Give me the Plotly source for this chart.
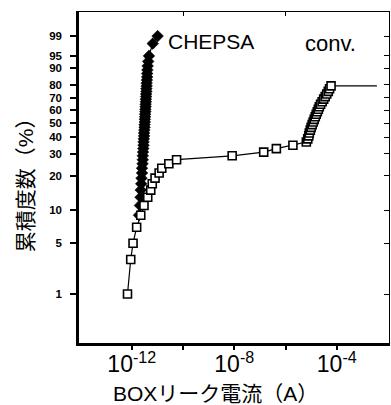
import numpy as np
import plotly.graph_objects as go

# ---------------- data ----------------
chepsa_F = [9, 11, 13, 15, 17, 19, 21, 23, 25, 27, 29, 31, 33, 35, 37, 39, 41, 43, 45, 47,
            49, 51, 53, 55, 57, 59, 61, 63, 65, 67, 69, 71, 73, 75, 77, 79, 81, 83, 85, 87,
            89, 91, 93, 95, 98, 99]
chepsa_I = [1.91e-12, 2.09e-12, 2.19e-12, 2.24e-12, 2.34e-12, 2.40e-12, 2.51e-12, 2.51e-12,
            2.63e-12, 2.69e-12, 2.69e-12, 2.75e-12, 2.82e-12, 2.88e-12, 2.88e-12, 2.95e-12,
            3.02e-12, 3.02e-12, 3.09e-12, 3.16e-12, 3.16e-12, 3.24e-12, 3.24e-12, 3.31e-12,
            3.31e-12, 3.39e-12, 3.39e-12, 3.47e-12, 3.47e-12, 3.55e-12, 3.55e-12, 3.63e-12,
            3.63e-12, 3.72e-12, 3.72e-12, 3.80e-12, 3.80e-12, 3.89e-12, 3.98e-12, 3.98e-12,
            4.07e-12, 4.17e-12, 4.37e-12, 4.68e-12, 6.6e-12, 1.02e-11]

conv_F = [1, 3, 5, 7, 9, 11, 13, 15, 17, 19, 21, 23, 25, 27, 29, 31, 33, 35, 37, 39,
          41, 43, 45, 47, 49, 51, 53, 55, 57, 59, 61, 63, 65, 67, 69, 71, 73, 75, 77, 79]
conv_I = [6.8e-13, 9.1e-13, 1.12e-12, 1.55e-12, 2.24e-12, 3.0e-12, 4.2e-12, 5.5e-12,
          6.3e-12, 8.1e-12, 1.17e-11, 1.48e-11, 2.8e-11, 5.6e-11, 8.3e-9, 1.41e-7,
          4.4e-7, 1.95e-6, 6.5e-6, 7.4e-6, 8.1e-6, 8.5e-6, 9.3e-6, 1.0e-5, 1.10e-5,
          1.20e-5, 1.32e-5, 1.45e-5, 1.58e-5, 1.74e-5, 1.91e-5, 2.09e-5, 2.34e-5,
          2.69e-5, 3.09e-5, 3.55e-5, 4.07e-5, 4.68e-5, 5.25e-5, 6.0e-5]
conv_tail_F = [79, 79]
conv_tail_I = [6.0e-5, 3.7e-3]

y_ticks = [1, 5, 10, 20, 30, 40, 50, 60, 70, 80, 90, 95, 99]
x_ticks = [1e-12, 1e-8, 1e-4]
x_ticktext = ["10<sup>-12</sup>", "10<sup>-8</sup>", "10<sup>-4</sup>"]
x_minor_ticks = [1e-10, 1e-6]
top_ticks = [1e-10, 1e-6]

# ---------------- cumulative-probability (Weibull) scale ----------------
def scale(F):
    F = np.asarray(F, dtype=float)
    w = np.log(-np.log(1 - F / 100.0))
    w5 = np.log(-np.log(0.95))
    return np.where(w >= w5, w, w5 + (w - w5) * 0.677)

Y_RANGE = [-5.136, 2.050]
X_RANGE = [-14.06, -1.96]

LAT = "Liberation Sans, Arial, Noto Sans CJK JP"
JP = "Liberation Sans, Noto Sans CJK JP"

fig = go.Figure()
fig.add_trace(go.Scatter(
    x=chepsa_I, y=scale(chepsa_F), mode="lines+markers",
    line=dict(color="black", width=1.2),
    marker=dict(symbol="diamond", size=9, color="black", line=dict(color="black", width=0.5)),
    showlegend=False, hoverinfo="skip"))
fig.add_trace(go.Scatter(
    x=conv_tail_I, y=scale(conv_tail_F), mode="lines",
    line=dict(color="black", width=1.2), showlegend=False, hoverinfo="skip"))
fig.add_trace(go.Scatter(
    x=conv_I, y=scale(conv_F), mode="lines+markers",
    line=dict(color="black", width=1.2),
    marker=dict(symbol="square", size=8, color="white", line=dict(color="black", width=1.6)),
    showlegend=False, hoverinfo="skip"))
# invisible trace to activate overlay axes
fig.add_trace(go.Scatter(x=[1e-8], y=[0], xaxis="x2", yaxis="y2", mode="markers",
                         marker=dict(opacity=0), showlegend=False, hoverinfo="skip"))

fig.update_layout(
    template="none",
    width=391, height=405,
    margin=dict(l=79, r=2, t=12, b=62, autoexpand=False),
    paper_bgcolor="white", plot_bgcolor="white",
    font=dict(family=LAT, color="#000000"),
    xaxis=dict(type="log", range=X_RANGE, tickvals=x_ticks, ticktext=x_ticktext,
               automargin=False,
               ticks="outside", ticklen=4, tickwidth=2, tickcolor="black",
               minor=dict(tickvals=x_minor_ticks, ticks="outside", ticklen=4, tickwidth=2,
                          tickcolor="black", showgrid=False),
               showline=True, linewidth=2.5, linecolor="black", showgrid=False,
               zeroline=False, tickfont=dict(family=LAT, size=23, color="#000000"),
               ticklabelstandoff=-5),
    yaxis=dict(range=Y_RANGE, tickvals=list(scale(y_ticks)), ticktext=[str(t) for t in y_ticks],
               automargin=False,
               ticks="outside", ticklen=6, tickwidth=1.5, tickcolor="black",
               showline=True, linewidth=2.5, linecolor="black", showgrid=False,
               zeroline=False, ticklabelstandoff=6,
               tickfont=dict(family=LAT, size=11.5, color="#000000", weight="bold")),
    xaxis2=dict(type="log", range=X_RANGE, overlaying="x", side="top", tickvals=top_ticks,
                automargin=False,
                showticklabels=False, ticks="inside", ticklen=4, tickwidth=1,
                tickcolor="black", showline=True, linewidth=1, linecolor="black",
                showgrid=False, zeroline=False),
    yaxis2=dict(range=Y_RANGE, overlaying="y", side="right", tickvals=list(scale(y_ticks)),
                automargin=False,
                showticklabels=False, ticks="inside", ticklen=5, tickwidth=1,
                tickcolor="black", showline=True, linewidth=1, linecolor="black",
                showgrid=False, zeroline=False),
    annotations=[
        dict(text="CHEPSA", xref="paper", yref="paper", x=0.282, y=0.912,
             xanchor="left", yanchor="middle", showarrow=False,
             font=dict(family=LAT, size=21, color="#000000")),
        dict(text="conv.", xref="paper", yref="paper", x=0.7225, y=0.906,
             xanchor="left", yanchor="middle", showarrow=False,
             font=dict(family=LAT, size=22, color="#000000")),
        dict(text="BOXリーク電流（A）", xref="paper", yref="paper", x=0.439, y=-0.154,
             xanchor="center", yanchor="middle", showarrow=False,
             font=dict(family=JP, size=21, color="#000000")),
        dict(text="累積度数（%）", xref="paper", yref="paper", x=-0.1736, y=0.4924,
             xanchor="center", yanchor="middle", showarrow=False, textangle=-90,
             font=dict(family=JP, size=21, color="#000000")),
    ],
)

fig.write_html("out.html", config={"displayModeBar": False},
               post_script="document.body.style.margin='0px';document.body.style.overflow='hidden';")
